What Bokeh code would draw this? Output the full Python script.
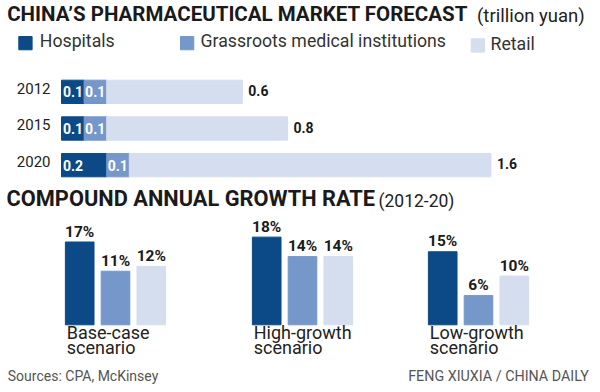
import numpy as np
from bokeh.plotting import figure
from bokeh.models import Range1d, FactorRange, ColumnDataSource
from bokeh.layouts import column, row
from bokeh.core.properties import value
from bokeh.embed import file_html
from bokeh.resources import INLINE

# ---------------- data ----------------
series = ["Hospitals", "Grassroots medical institutions", "Retail"]
years = ["2012", "2015", "2020"]
hospitals = [0.1, 0.1, 0.2]
grassroots = [0.1, 0.1, 0.1]
retail = [0.6, 0.8, 1.6]

scenarios = ["Base-case scenario", "High-growth scenario", "Low-growth scenario"]
cagr_hospitals = [17, 18, 15]
cagr_grassroots = [11, 14, 6]
cagr_retail = [12, 14, 10]

title_main = "CHINA\u2019S PHARMACEUTICAL MARKET FORECAST"
title_main_unit = "(trillion yuan)"
title_cagr = "COMPOUND ANNUAL GROWTH RATE"
title_cagr_period = "(2012-20)"
source_note = "Sources: CPA, McKinsey"
credit_note = "FENG XIUXIA / CHINA DAILY"

# ---------------- style ----------------
colors = ["#0b4a87", "#7597c9", "#d4deee"]
FONT = value("Roboto")
W = 600


def make_fig(w, h, x_range, y_range, **kw):
    p = figure(width=w, height=h, x_range=x_range, y_range=y_range,
               output_backend="svg", toolbar_location=None,
               x_axis_type=None, y_axis_type=None, min_border=0, **kw)
    p.outline_line_color = None
    p.background_fill_color = "white"
    p.border_fill_color = "white"
    return p


# ---------------- header: title + legend ----------------
H1 = 73
p1 = make_fig(W, H1, Range1d(0, W), Range1d(H1, 0))
p1.text(x=[6.7], y=[13.0], text=[title_main], text_font=FONT, text_font_style="bold",
        text_font_size="20.5px", text_color="#1a1a1a", text_baseline="middle")
p1.text(x=[476.5], y=[15.4], text=[title_main_unit], text_font=FONT,
        text_font_size="18.5px", text_color="#222222", text_baseline="middle")
leg_left = np.array([18.3, 180.0, 470.7])
leg_top = np.array([36.0, 36.0, 38.3])
sq = 13.3
p1.quad(left=leg_left, right=leg_left + sq, top=leg_top, bottom=leg_top + sq,
        color=colors)
p1.text(x=[39.3, 200.0, 490.0], y=[40.4, 40.4, 43.7], text=series, text_font=FONT,
        text_font_size="17.7px", text_color="#333333", text_baseline="middle")

# ---------------- top: stacked horizontal bars ----------------
H2 = 110
x0_px, ppu = 61.0, 226.0
p2 = make_fig(W, H2, Range1d(-x0_px / ppu, (W - x0_px) / ppu), FactorRange(factors=years[::-1]))
src = ColumnDataSource(dict(year=years, hosp=hospitals, grass=grassroots, retail=retail))
p2.hbar_stack(["hosp", "grass", "retail"], y="year", height=0.636, color=colors, source=src)
hl = np.array(hospitals)
gl = np.array(grassroots)
rl = np.array(retail)
p2.text(x=np.zeros(len(years)), y=years, text=[f"{v:.1f}" for v in hospitals],
        x_offset=1.5, text_font=FONT, text_font_style="bold", text_font_size="14px",
        text_color="white", text_baseline="middle", text_align="left")
p2.text(x=hl, y=years, text=[f"{v:.1f}" for v in grassroots],
        x_offset=1.0, text_font=FONT, text_font_style="bold", text_font_size="14px",
        text_color="white", text_baseline="middle", text_align="left")
p2.text(x=hl + gl + rl, y=years, text=[f"{v:.1f}" for v in retail],
        x_offset=6, y_offset=-1.5, text_font=FONT, text_font_style="bold",
        text_font_size="14px", text_color="#1a1a1a", text_baseline="middle",
        text_align="left")
p2.text(x=np.zeros(len(years)), y=years, text=years, x_offset=-11, y_offset=-3.6,
        text_font=FONT, text_font_size="15px", text_color="#222222",
        text_baseline="middle", text_align="right")

# ---------------- second title ----------------
H3 = 32
p3 = make_fig(W, H3, Range1d(0, W), Range1d(H3, 0))
p3.text(x=[6.0], y=[14.9], text=[title_cagr], text_font=FONT, text_font_style="bold",
        text_font_size="21.8px", text_color="#1a1a1a", text_baseline="middle")
p3.text(x=[378.0], y=[17.0], text=[title_cagr_period], text_font=FONT,
        text_font_size="17.5px", text_color="#222222", text_baseline="middle")

# ---------------- bottom: one small bar panel per scenario ----------------
H4 = 145
ppv = 4.87          # px per percentage point
base_px = 109.3     # baseline position inside the panel
unit_px = 35.8      # px per category slot
panel_frames = [230, 144, 208]
panel_extra_right = [0, 0, 18]
cagr_by_scenario = list(zip(cagr_hospitals, cagr_grassroots, cagr_retail))

panels = []
for i, scen in enumerate(scenarios):
    fw = panel_frames[i]
    pad = (fw / unit_px - len(series)) / 2.0
    xr = FactorRange(factors=series, range_padding=pad, range_padding_units="absolute")
    yr = Range1d(-(H4 - base_px) / ppv, base_px / ppv)
    p = make_fig(fw + panel_extra_right[i], H4, xr, yr, min_border_right=panel_extra_right[i])
    vals = list(cagr_by_scenario[i])
    s = ColumnDataSource(dict(x=series, v=vals, c=colors, lab=[f"{v}%" for v in vals]))
    p.vbar(x="x", top="v", width=0.8, color="c", source=s)
    p.text(x="x", y="v", text="lab", y_offset=-10.4, source=s, text_font=FONT,
           text_font_style="bold", text_font_size="15.5px", text_color="#1a1a1a",
           text_align="center", text_baseline="middle")
    words = scen.split(" ")
    p.text(x=[series[0]], y=[0], text=[words[0]], x_offset=-13, y_offset=7.2,
           text_font=FONT, text_font_size="18px", text_color="#222222",
           text_align="left", text_baseline="middle")
    p.text(x=[series[0]], y=[0], text=[words[1]], x_offset=-13, y_offset=22.5,
           text_font=FONT, text_font_size="18px", text_color="#222222",
           text_align="left", text_baseline="middle")
    panels.append(p)

bars_row = row(*panels, spacing=0)

# ---------------- footer ----------------
H5 = 30
p5 = make_fig(W, H5, Range1d(0, W), Range1d(H5, 0))
p5.text(x=[7.3], y=[15.1], text=[source_note], text_font=FONT, text_font_size="14px",
        text_color="#555555", text_baseline="middle", text_align="left")
p5.text(x=[588.3], y=[15.3], text=[credit_note], text_font=FONT, text_font_size="14.3px",
        text_color="#555555", text_baseline="middle", text_align="right")

layout = column(p1, p2, p3, bars_row, p5, spacing=0)
open("out.html", "w").write(file_html(layout, INLINE))
